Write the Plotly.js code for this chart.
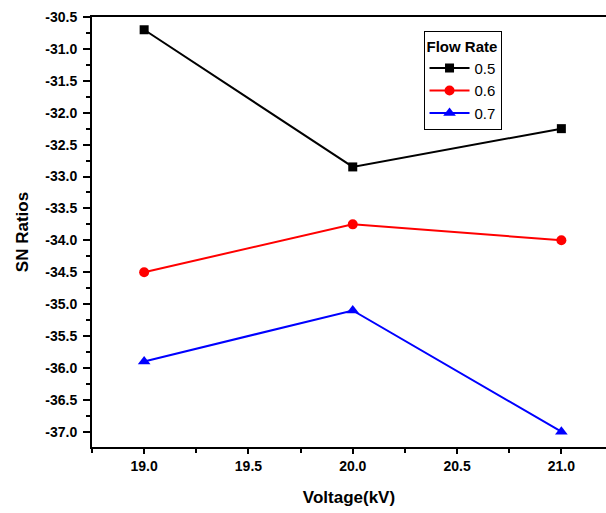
<!DOCTYPE html>
<html><head><meta charset="utf-8">
<script src="https://cdn.plot.ly/plotly-3.0.1.min.js"></script>
<style>html,body{margin:0;padding:0;background:#fff}#chart{width:606px;height:513px}</style>
</head><body><div id="chart"></div>
<script>
const voltage = [19.0, 20.0, 21.0];
const flow05 = [-30.7, -32.85, -32.25];
const flow06 = [-34.5, -33.75, -34.0];
const flow07 = [-35.9, -35.1, -37.0];
const seriesNames = ['0.5', '0.6', '0.7'];
const yTickVals = [-30.5,-31.0,-31.5,-32.0,-32.5,-33.0,-33.5,-34.0,-34.5,-35.0,-35.5,-36.0,-36.5,-37.0];
const yTickText = ['-30.5','-31.0','-31.5','-32.0','-32.5','-33.0','-33.5','-34.0','-34.5','-35.0','-35.5','-36.0','-36.5','-37.0'];
const xTickVals = [19.0, 19.5, 20.0, 20.5, 21.0];
const xTickText = ['19.0','19.5','20.0','20.5','21.0'];

const FONT = 'Liberation Sans, Arial, sans-serif';

const traces = [
  {x: voltage, y: flow05, name: seriesNames[0], mode: 'lines+markers',
   line: {color: '#000000', width: 2}, marker: {symbol: 'square', size: 9, color: '#000000'}},
  {x: voltage, y: flow06, name: seriesNames[1], mode: 'lines+markers',
   line: {color: '#ff0000', width: 2}, marker: {symbol: 'circle', size: 10, color: '#ff0000'}},
  {x: voltage, y: flow07, name: seriesNames[2], mode: 'lines+markers',
   line: {color: '#0000ff', width: 2}, marker: {symbol: 'triangle-up', size: 11, color: '#0000ff'}}
];

const tickFont = {family: FONT, size: 14, color: '#000', weight: 'bold'};
const titleFont = {family: FONT, size: 17, color: '#000', weight: 'bold'};
const layout = {
  width: 606, height: 513,
  margin: {l: 92, r: 0, t: 17, b: 66},
  paper_bgcolor: '#fff', plot_bgcolor: '#fff',
  showlegend: true,
  legend: {
    x: 0.645, y: 0.967, xanchor: 'left', yanchor: 'top',
    bordercolor: '#000', borderwidth: 1, bgcolor: '#fff',
    font: {family: FONT, size: 15, color: '#000'},
    title: {text: 'Flow Rate', font: {family: FONT, size: 15, color: '#000', weight: 'bold'}},
    tracegroupgap: 0, itemwidth: 40
  },
  xaxis: {
    range: [18.75, 21.214],
    tickmode: 'array', tickvals: xTickVals, ticktext: xTickText,
    ticks: 'outside', ticklen: 5, tickwidth: 2, tickcolor: '#000',
    minor: {dtick: 0.25, tick0: 19.0, ticks: 'outside', ticklen: 4, tickwidth: 2, tickcolor: '#000', showgrid: false},
    showline: true, linecolor: '#000', linewidth: 2, mirror: true,
    showgrid: false, zeroline: false,
    tickfont: tickFont,
    title: {text: 'Voltage(kV)', font: titleFont, standoff: 18}
  },
  yaxis: {
    range: [-37.24, -30.5],
    tickmode: 'array', tickvals: yTickVals, ticktext: yTickText,
    ticks: 'outside', ticklen: 7, tickwidth: 2, tickcolor: '#000',
    ticklabelstandoff: 3,
    minor: {dtick: 0.25, tick0: -30.5, ticks: 'outside', ticklen: 4, tickwidth: 2, tickcolor: '#000', showgrid: false},
    showline: true, linecolor: '#000', linewidth: 2,
    showgrid: false, zeroline: false,
    tickfont: tickFont,
    title: {text: 'SN Ratios', font: titleFont, standoff: 12}
  }
};
Plotly.newPlot('chart', traces, layout, {displayModeBar: false, staticPlot: true});
</script></body></html>
